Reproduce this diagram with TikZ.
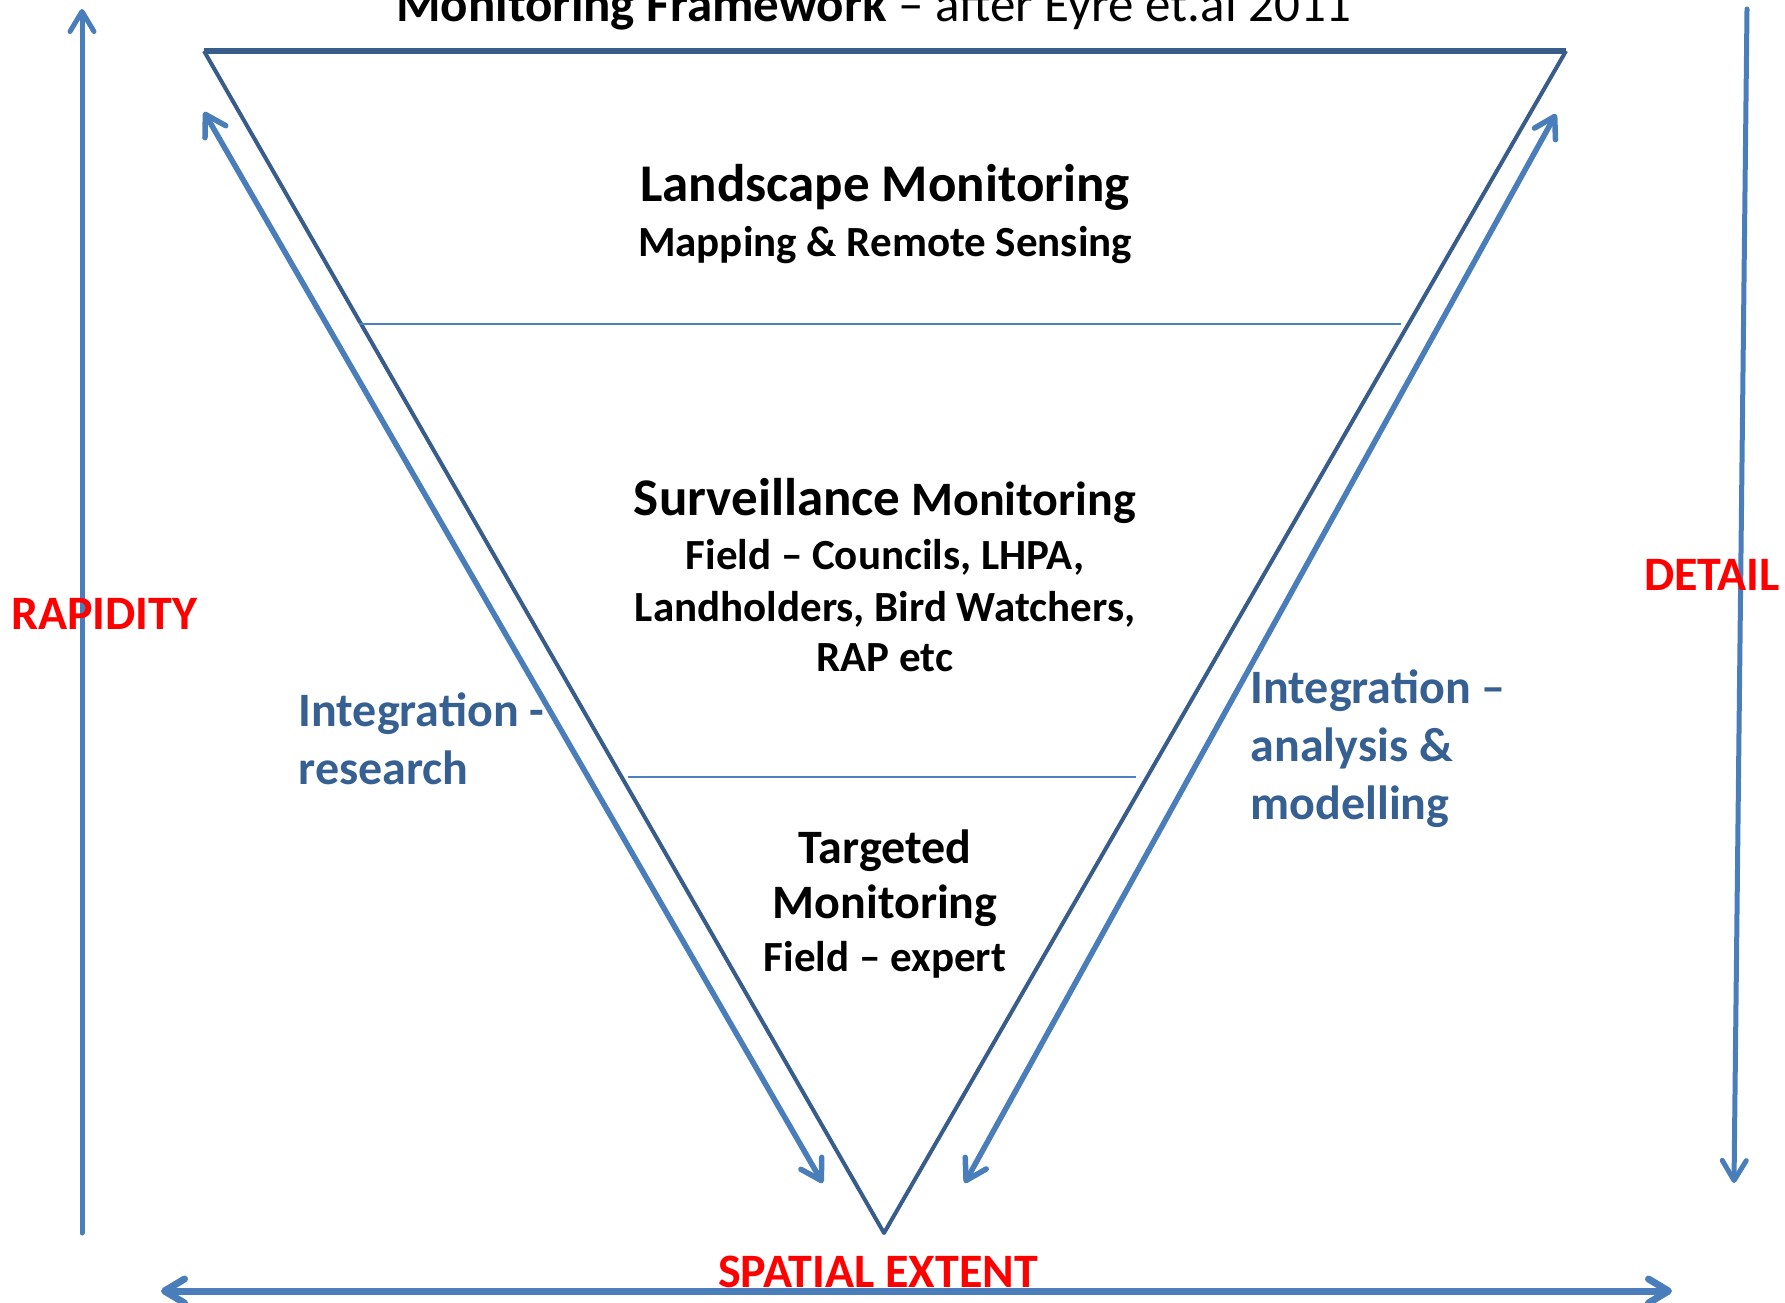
\documentclass[tikz,border=0pt]{standalone}
\usepackage{fontspec}
\setmainfont{Carlito}
\usetikzlibrary{arrows.meta}
\definecolor{tri}{RGB}{56,93,138}
\definecolor{arr}{RGB}{74,126,187}
\definecolor{thinl}{RGB}{79,129,189}
\definecolor{intc}{RGB}{55,96,146}
\definecolor{redl}{RGB}{255,0,0}
\tikzset{
  barb/.tip={Straight Barb[length=20pt,width=24pt,round]},
  txt/.style={inner sep=0pt, anchor=base, font=\bfseries},
  txtw/.style={inner sep=0pt, anchor=base west, font=\bfseries},
  arrline/.style={draw=arr, line width=5pt, line cap=round},
  sz/.style={font=\fontsize{#1}{#1}\selectfont\bfseries},
}
\begin{document}
\begin{tikzpicture}[x=1pt,y=-1pt]
\useasboundingbox (0,0) rectangle (1785,1303);
% triangle
\coordinate (tl) at (204,51);
\coordinate (tr) at (1566,51);
\coordinate (bt) at (884,1233);
\draw[tri, line width=4pt, line join=round] (tl) -- (bt) -- (tr);
\draw[tri, line width=6pt] (tl) -- (tr);
% separators
\coordinate (s1a) at (359,324); \coordinate (s1b) at (1401,324);
\coordinate (s2a) at (628,777); \coordinate (s2b) at (1136,777);
\draw[thinl, line width=2pt] (s1a) -- (s1b);
\draw[thinl, line width=2pt] (s2a) -- (s2b);
% inner arrows
\coordinate (la) at (822.7,1183); \coordinate (lb) at (204,112);
\coordinate (ra) at (964.7,1183); \coordinate (rb) at (1556,114);
\draw[arrline, line width=5.5pt, barb-barb] (la) -- (lb);
\draw[arrline, line width=5.5pt, barb-barb] (ra) -- (rb);
% outer arrows
\coordinate (va) at (82,1233); \coordinate (vb) at (82,9);
\coordinate (wa) at (1747,9); \coordinate (wb) at (1734,1183);
\coordinate (ha) at (161,1291); \coordinate (hb) at (1672,1291);
\draw[arrline, -barb] (va) -- (vb);
\draw[arrline, -barb] (wa) -- (wb);
\draw[arrline, line width=7pt, barb-barb] (ha) -- (hb);
% title
\node[inner sep=0pt, anchor=base] (title) at (874,21.7) {\fontsize{51}{51}\selectfont\textbf{Monitoring Framework} – after Eyre et.al 2011};
% labels
\node[txt, sz=53] (l1) at (885,201) {Landscape Monitoring};
\node[txt, sz=43] (l2) at (885,256) {Mapping \& Remote Sensing};
\node[txt, sz=48] (s1) at (885,515.6) {{\fontsize{53}{53}\selectfont Surveillance} Monitoring};
\node[txt, sz=43] (s2) at (885,569) {Field – Councils, LHPA,};
\node[txt, sz=43] (s3) at (885,621) {Landholders, Bird Watchers,};
\node[txt, sz=43] (s4) at (885,671) {RAP etc};
\node[txt, sz=48] (t1) at (885,863) {Targeted};
\node[txt, sz=48] (t2) at (885,918) {Monitoring};
\node[txt, sz=43] (t3) at (885,971) {Field – expert};
% side labels
\node[txtw, sz=48, text=intc] (i1) at (298.5,726) {Integration -};
\node[txtw, sz=48, text=intc] (i2) at (298.5,784) {research};
\node[txtw, sz=48, text=intc] (j1) at (1250.5,703) {Integration –};
\node[txtw, sz=48, text=intc] (j2) at (1250.5,761) {analysis \&};
\node[txtw, sz=48, text=intc] (j3) at (1250.5,819) {modelling};
\node[txtw, sz=48, text=redl] (rap) at (11,629) {RAPIDITY};
\node[txtw, sz=48, text=redl] (det) at (1644,590) {DETAIL};
\node[txt, sz=48, text=redl] (spa) at (878,1287) {SPATIAL EXTENT};
\end{tikzpicture}
\end{document}
